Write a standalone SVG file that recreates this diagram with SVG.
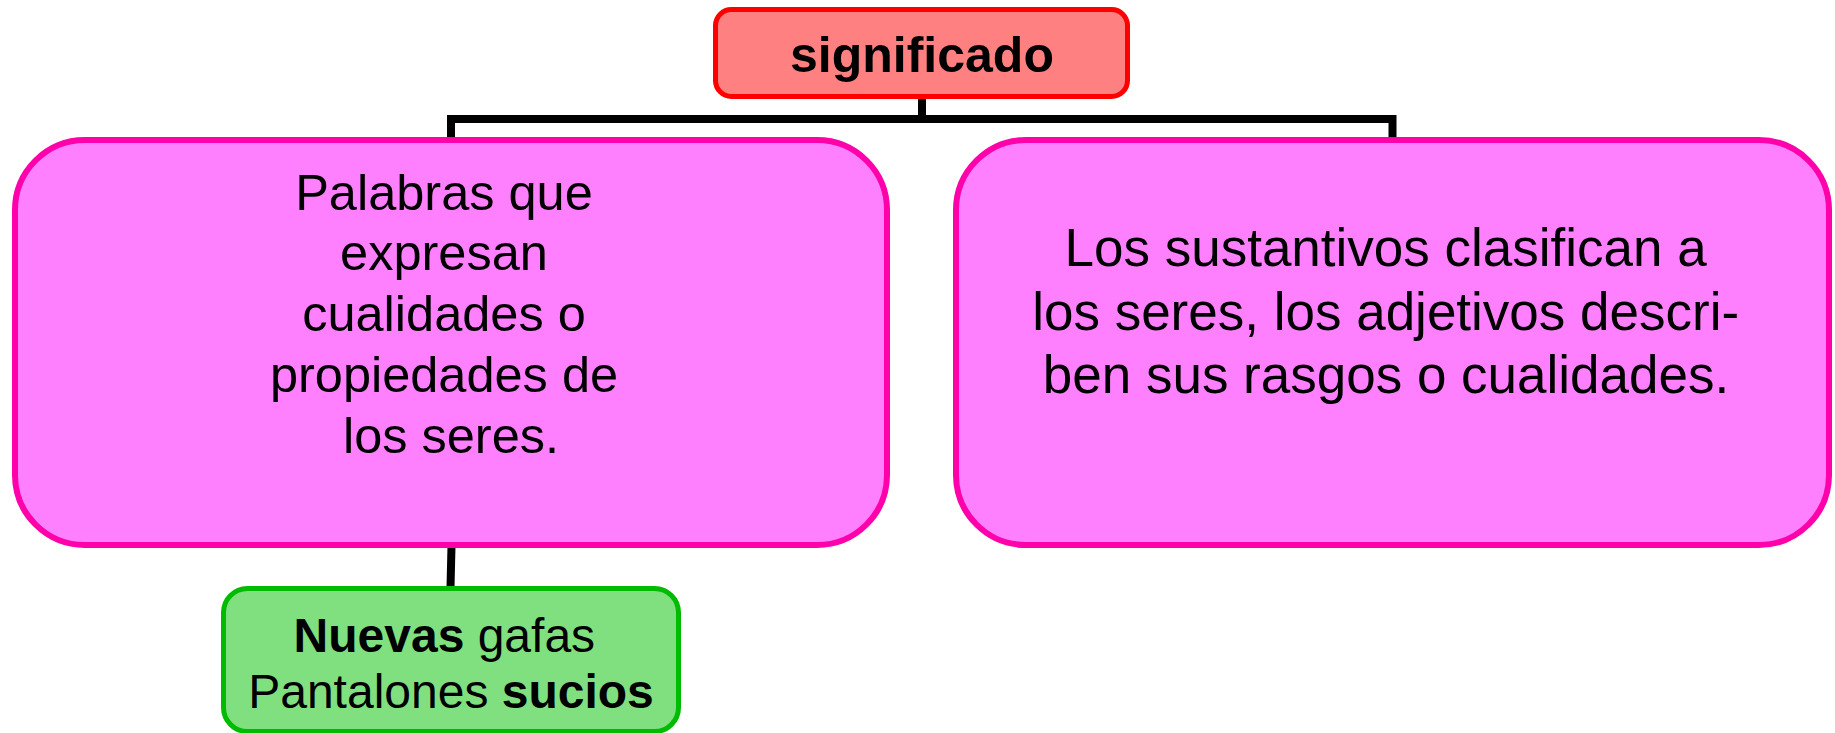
<svg xmlns="http://www.w3.org/2000/svg" width="1835" height="733" viewBox="0 0 1835 733">
<style>
  .t { font-family: "Liberation Sans", Arial, sans-serif; fill: #000; text-anchor: middle; }
  .conn { stroke: #000; stroke-width: 8; fill: none; }
  .pink { fill: #FF80FF; stroke: #FF00AA; stroke-width: 6; }
</style>
<rect width="1835" height="733" fill="#fff"/>
<g id="connectors">
  <path class="conn" d="M922 98 V119 M447 119 H1396.5 M451 119 V139 M1392.5 119 V139"/>
  <path class="conn" d="M451.5 546 L450.5 587"/>
</g>
<g id="node-significado">
  <rect x="715.5" y="9.5" width="412" height="87" rx="16" fill="#FF8080" stroke="#FF0000" stroke-width="5"/>
  <text class="t" x="922" y="72" font-size="50" font-weight="bold">significado</text>
</g>
<g id="node-definicion">
  <rect class="pink" x="15" y="140" width="872" height="405" rx="70"/>
  <text class="t" font-size="50.5">
    <tspan x="451" y="210">Palabras que</tspan>
    <tspan x="451" y="270">expresan</tspan>
    <tspan x="451" y="331">cualidades o</tspan>
    <tspan x="451" y="392">propiedades de</tspan>
    <tspan x="451" y="453">los seres.</tspan>
  </text>
</g>
<g id="node-sustantivos">
  <rect class="pink" x="956" y="140" width="873" height="405" rx="70"/>
  <text class="t" font-size="53">
    <tspan x="1393" y="266">Los sustantivos clasifican a</tspan>
    <tspan x="1393" y="330">los seres, los adjetivos descri-</tspan>
    <tspan x="1386" y="393">ben sus rasgos o cualidades.</tspan>
  </text>
</g>
<g id="node-ejemplos">
  <rect x="223.5" y="588.5" width="455" height="143" rx="24" fill="#80E080" stroke="#00BB00" stroke-width="5"/>
  <text class="t" font-size="48">
    <tspan x="451" y="652"><tspan font-weight="bold">Nuevas</tspan> gafas</tspan>
    <tspan x="451" y="708">Pantalones <tspan font-weight="bold">sucios</tspan></tspan>
  </text>
</g>
</svg>
